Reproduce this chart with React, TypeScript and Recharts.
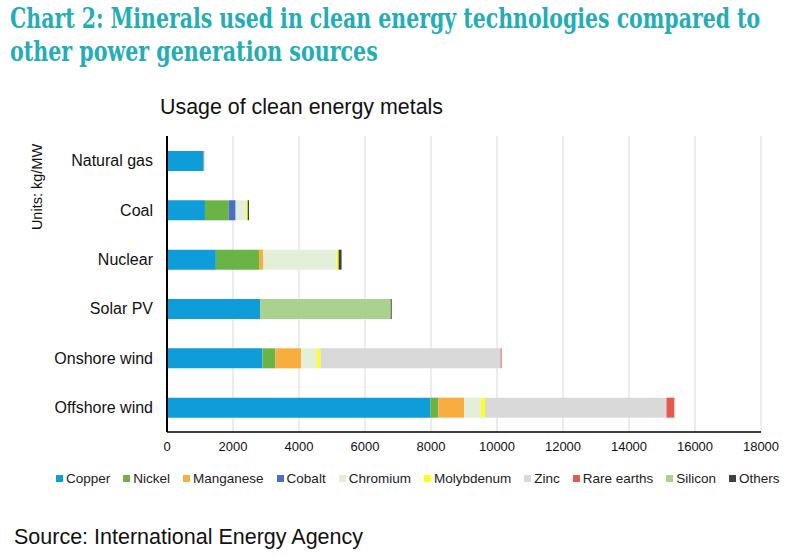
import React, { useLayoutEffect, useRef, useState } from "react";
import { BarChart, Bar, XAxis, YAxis, CartesianGrid, Legend } from "recharts";

const categories = ["Natural gas", "Coal", "Nuclear", "Solar PV", "Onshore wind", "Offshore wind"];
const minerals = ["Copper", "Nickel", "Manganese", "Cobalt", "Chromium", "Molybdenum", "Zinc", "Rare earths", "Silicon", "Others"];
const colors = ["#0f9dd9", "#6ab445", "#f8ad3f", "#4a6fc4", "#e3efd9", "#ffff1a", "#d9d9d9", "#e65a4e", "#a9d28f", "#404040"];

const copper = [1100, 1150, 1480, 2820, 2890, 7980];
const nickel = [0, 720, 1310, 0, 395, 240];
const manganese = [0, 0, 130, 0, 780, 780];
const cobalt = [0, 210, 0, 0, 0, 0];
const chromium = [10, 320, 2220, 0, 480, 515];
const molybdenum = [0, 45, 60, 0, 105, 120];
const zinc = [0, 0, 0, 0, 5460, 5500];
const rareEarths = [0, 0, 0, 0, 30, 240];
const silicon = [0, 0, 0, 3960, 0, 0];
const others = [15, 40, 90, 30, 0, 0];

const xTicks = [0, 2000, 4000, 6000, 8000, 10000, 12000, 14000, 16000, 18000];

const series = [copper, nickel, manganese, cobalt, chromium, molybdenum, zinc, rareEarths, silicon, others];

const data = categories.map((name, i) => {
  const row: Record<string, any> = { name };
  minerals.forEach((m, j) => {
    row[m] = series[j][i];
  });
  return row;
});

const renderLegend = () => (
  <div
    style={{
      display: "flex",
      alignItems: "center",
      paddingLeft: 56,
      fontFamily: "'Liberation Sans', Arial, sans-serif",
      fontSize: 13.5,
      color: "#222",
      height: 20,
      whiteSpace: "nowrap",
    }}
  >
    {minerals.map((m, i) => (
      <div key={m} style={{ display: "flex", alignItems: "center", marginRight: 13 }}>
        <span style={{ display: "inline-block", width: 7, height: 7, background: colors[i], marginRight: 3 }} />
        <span>{m}</span>
      </div>
    ))}
  </div>
);

function FitLine({ text, top, width }: { text: string; top: number; width: number }) {
  const ref = useRef<HTMLDivElement>(null);
  const [scale, setScale] = useState(1);
  useLayoutEffect(() => {
    if (ref.current) {
      const w = ref.current.scrollWidth;
      if (w > 0) setScale(width / w);
    }
  }, [text, width]);
  return (
    <div
      ref={ref}
      style={{
        position: "absolute",
        left: 10,
        top,
        fontFamily: "'DejaVu Serif Condensed', 'DejaVu Serif', serif",
        fontWeight: 700,
        fontSize: 27,
        lineHeight: "32px",
        color: "#25adb6",
        whiteSpace: "nowrap",
        transform: `scaleX(${scale})`,
        transformOrigin: "0 0",
      }}
    >
      {text}
    </div>
  );
}

export default function App() {
  return (
    <div style={{ position: "absolute", left: 0, top: 0, width: 805, height: 557, background: "#fff", overflow: "hidden" }}>
      <FitLine text="Chart 2: Minerals used in clean energy technologies compared to" top={3} width={750} />
      <FitLine text="other power generation sources" top={36} width={368} />
      <div
        style={{
          position: "absolute",
          left: 160,
          top: 95,
          fontFamily: "'Liberation Sans', Arial, sans-serif",
          fontSize: 21.4,
          color: "#111",
          whiteSpace: "nowrap",
          lineHeight: "24px",
        }}
      >
        Usage of clean energy metals
      </div>
      <div
        style={{
          position: "absolute",
          left: 37,
          top: 187,
          transform: "translate(-50%, -50%) rotate(-90deg)",
          fontFamily: "'Liberation Sans', Arial, sans-serif",
          fontSize: 14.5,
          color: "#111",
          whiteSpace: "nowrap",
        }}
      >
        Units: kg/MW
      </div>
      <div style={{ position: "absolute", left: 0, top: 0 }}>
        <BarChart
          width={805}
          height={557}
          data={data}
          layout="vertical"
          margin={{ top: 136, right: 44, bottom: 69, left: 0 }}
          barSize={20}
        >
          <CartesianGrid horizontal={false} vertical={true} stroke="#d9d9d9" strokeWidth={1} />
          <XAxis
            type="number"
            domain={[0, 18000]}
            ticks={xTicks}
            interval={0}
            tickLine={false}
            axisLine={{ stroke: "#000", strokeWidth: 1.5 }}
            tick={{ fill: "#111", fontSize: 13, fontFamily: "'Liberation Sans', Arial, sans-serif" }}
            tickSize={6}
            tickMargin={4}
            height={36}
          />
          <YAxis
            type="category"
            dataKey="name"
            width={167}
            tickLine={false}
            axisLine={{ stroke: "#000", strokeWidth: 2 }}
            tick={{ fill: "#111", fontSize: 16, fontFamily: "'Liberation Sans', Arial, sans-serif" }}
            tickSize={6}
            tickMargin={8}
            interval={0}
          />
          <Legend verticalAlign="bottom" height={20} content={renderLegend} />
          {minerals.map((m, i) => (
            <Bar key={m} dataKey={m} stackId="a" fill={colors[i]} isAnimationActive={false} />
          ))}
        </BarChart>
      </div>
      <div
        style={{
          position: "absolute",
          left: 14,
          top: 525,
          fontFamily: "'Liberation Sans', Arial, sans-serif",
          fontSize: 21.5,
          color: "#111",
          whiteSpace: "nowrap",
          lineHeight: "24px",
        }}
      >
        Source: International Energy Agency
      </div>
    </div>
  );
}
